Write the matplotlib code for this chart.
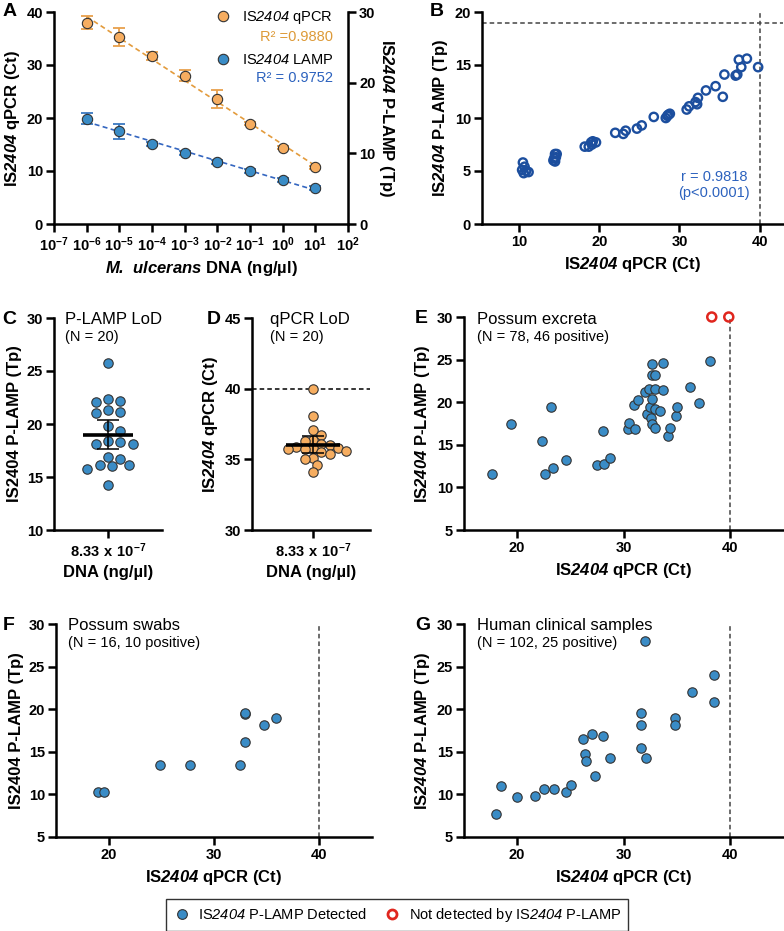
import numpy as np
import matplotlib.pyplot as plt
from matplotlib.lines import Line2D
from matplotlib.ticker import NullLocator

plt.rcParams['font.family'] = ['Liberation Sans', 'DejaVu Sans']
plt.rcParams['font.weight'] = 'bold'
plt.rcParams['axes.labelweight'] = 'bold'
plt.rcParams['mathtext.fontset'] = 'custom'
plt.rcParams['mathtext.rm'] = 'Liberation Sans:style=normal:weight=bold'
plt.rcParams['mathtext.bf'] = 'Liberation Sans:style=italic:weight=bold'
plt.rcParams['mathtext.sf'] = 'Liberation Sans:style=italic:weight=normal'

# ---- data ----
# A: standard curves
conc = [1e-6, 1e-5, 1e-4, 1e-3, 1e-2, 1e-1, 1e0, 1e1]
qpcr_ct = [38.0, 35.2, 31.7, 28.0, 23.6, 18.9, 14.4, 10.7]
qpcr_sd = [1.3, 1.7, 0.8, 1.0, 1.7, 0.3, 0.3, 0.3]
lamp_tp = [14.9, 13.1, 11.3, 10.1, 8.8, 7.45, 6.25, 5.05]
lamp_sd = [0.75, 1.1, 0.3, 0.3, 0.3, 0.3, 0.3, 0.3]

# B: qPCR vs P-LAMP on dilutions
b_ct = [10.5, 10.4, 10.7, 10.9, 11.2, 10.6,
        14.3, 14.5, 14.7, 14.4, 14.6, 14.5,
        18.2, 18.7, 19.0, 19.2, 19.6, 19.1,
        22.0, 23.0, 23.3, 24.7, 25.3,
        26.8, 28.3, 28.5, 28.8, 28.6,
        30.9, 31.2, 32.0, 32.3, 32.2, 33.3, 34.5, 35.4, 35.6,
        37.0, 37.2, 37.4, 37.7, 38.4, 39.8]
b_tp = [5.8, 5.1, 5.4, 5.0, 4.9, 4.8,
        6.0, 6.6, 6.6, 6.2, 6.3, 5.9,
        7.3, 7.3, 7.7, 7.8, 7.7, 7.5,
        8.6, 8.5, 8.8, 9.0, 9.3,
        10.1, 10.0, 10.2, 10.4, 10.3,
        10.8, 11.1, 11.5, 11.9, 11.3, 12.6, 13.0, 12.0, 14.1,
        14.0, 14.1, 15.5, 14.8, 15.6, 14.8]

# C: P-LAMP LoD replicates
c_tp = [25.8, 22.1, 22.4, 22.2, 21.1, 21.0, 21.3, 19.8, 19.3, 18.4,
        18.1, 18.1, 18.3, 16.9, 16.7, 16.1, 16.0, 15.8, 16.1, 14.2]
# D: qPCR LoD replicates
d_ct = [40.0, 38.1, 37.1, 36.7, 36.4, 36.3, 36.1, 36.0, 35.9, 35.8,
        35.8, 35.7, 35.7, 35.6, 35.5, 35.4, 35.1, 35.0, 34.6, 34.1]

# E: possum excreta
e_ct = [17.6, 19.4, 22.3, 22.6, 23.2, 23.4, 24.6, 27.5, 28.2, 28.1, 28.7,
        30.4, 30.5, 31.1, 31.0, 31.4, 32.0, 32.4, 32.2, 32.5, 32.6, 32.7,
        32.7, 32.7, 32.7, 33.0, 33.0, 33.0, 33.0, 33.4, 33.7, 33.7, 34.2,
        34.4, 34.9, 35.0, 36.3, 37.1, 38.1]
e_tp = [11.6, 17.4, 15.5, 11.6, 19.4, 12.3, 13.2, 12.6, 12.7, 16.6, 13.4,
        16.9, 17.6, 16.8, 19.7, 20.2, 21.2, 21.5, 18.6, 19.4, 18.1, 17.4,
        20.4, 23.2, 24.5, 23.2, 21.5, 19.2, 17.0, 19.0, 24.6, 21.4, 16.0,
        17.0, 18.4, 19.4, 21.8, 19.9, 24.8]
e_nd_ct = [38.3, 39.9]
e_nd_tp = [30.0, 30.0]

# F: possum swabs
f_ct = [19.0, 19.6, 24.9, 27.7, 32.5, 32.9, 32.9, 32.9, 34.7, 35.9]
f_tp = [10.3, 10.3, 13.5, 13.4, 13.5, 16.1, 19.4, 19.6, 18.1, 19.0]

# G: human clinical samples
g_ct = [18.0, 18.5, 20.0, 21.7, 22.5, 23.5, 24.6, 25.1, 26.2, 26.4, 26.5,
        27.0, 27.3, 28.1, 28.7, 32.0, 31.6, 31.6, 31.6, 32.1, 34.8, 34.8,
        36.4, 38.5, 38.5]
g_tp = [7.7, 11.0, 9.7, 9.8, 10.6, 10.6, 10.3, 11.1, 16.5, 14.7, 13.9,
        17.1, 12.2, 16.8, 14.3, 28.0, 19.6, 18.1, 15.4, 14.3, 19.0, 18.1,
        22.0, 24.0, 20.9]

# ---- style ----
ORANGE = '#F6AD60'
BLUE = '#3A8CC6'
EDGE = '#333333'
ORANGE_TXT = '#DD9A38'
BLUE_TXT = '#2C62BE'
DARKBLUE = '#1C4E9E'
RED = '#E0261E'
DASH = (0, (3, 2))
TICK_FS = 10.5

W, H = 784, 931
fig = plt.figure(figsize=(W / 100, H / 100), dpi=100)


def box(l, r, t, b):
    return [l / W, 1 - b / H, (r - l) / W, (b - t) / H]


def ftext(x, y, s, **kw):
    fig.text(x / W, 1 - y / H, s, ha='left', va='top', **kw)


def style(ax):
    ax.spines['top'].set_visible(False)
    ax.spines['right'].set_visible(False)
    for sp in ax.spines.values():
        sp.set_linewidth(1.8)
    ax.tick_params(width=1.8, length=6, labelsize=TICK_FS, pad=2)


def swarm_offsets(vals, ax, diam_px, overlap=0.8):
    # simple beeswarm in pixel space, points may overlap a little
    bb = ax.get_window_extent()
    y0, y1 = ax.get_ylim()
    x0, x1 = ax.get_xlim()
    ypx = (np.asarray(vals) - y0) / (y1 - y0) * bb.height
    step = diam_px * 0.45
    placed = []
    off = np.zeros(len(vals))
    for i in np.argsort(vals)[::-1]:
        for k in range(60):
            cands = [0.0] if k == 0 else [k * step, -k * step]
            good = None
            for c in cands:
                if all((c - px) ** 2 + (ypx[i] - py) ** 2 >= (diam_px * overlap) ** 2
                       for px, py in placed):
                    good = c
                    break
            if good is not None:
                break
        off[i] = good
        placed.append((good, ypx[i]))
    return off / bb.width * (x1 - x0)


qpcr_lab = r'IS$\mathbf{2404}$ qPCR (Ct)'
lamp_lab = r'IS$\mathbf{2404}$ P-LAMP (Tp)'
lamp_lab_up = 'IS2404 P-LAMP (Tp)'

# ---- A ----
axA = fig.add_axes(box(54, 348, 12, 224))
style(axA)
axA.set_xscale('log')
axA.set_xlim(1e-7, 1e2)
axA.set_ylim(0, 40)
axA.set_yticks([0, 10, 20, 30, 40])
dec = np.arange(-7, 3)
axA.set_xticks(10.0 ** dec, [r'$\mathrm{10^{%d}}$' % d for d in dec])
axA.xaxis.set_minor_locator(NullLocator())
axA.set_ylabel(qpcr_lab, fontsize=12, labelpad=3)
axA.set_xlabel(r'$\mathbf{M.\ ulcerans}$ DNA (ng/µl)', fontsize=12, labelpad=4)

axA2 = axA.twinx()
for s in ['top', 'left', 'bottom']:
    axA2.spines[s].set_visible(False)
axA2.spines['right'].set_linewidth(1.8)
axA2.tick_params(width=1.8, length=6, labelsize=TICK_FS, pad=2)
axA2.set_ylim(0, 30)
axA2.set_yticks([0, 10, 20, 30])
axA2.set_ylabel(lamp_lab, fontsize=12, rotation=270, labelpad=15)

lx = np.log10(conc)
xs = np.array([lx[0], lx[-1]])
kq = np.polyfit(lx, qpcr_ct, 1)
kl = np.polyfit(lx, lamp_tp, 1)
axA.plot(10 ** xs, np.polyval(kq, xs), ls=(0, (3, 2)), color='#E39B3C', lw=1.2, zorder=2)
axA2.plot(10 ** xs, np.polyval(kl, xs), ls=(0, (3, 2)), color='#3466C0', lw=1.2, zorder=2)
axA.errorbar(conc, qpcr_ct, yerr=qpcr_sd, fmt='none', ecolor='#E8A04C', elinewidth=1.3,
             capsize=4, capthick=1.3, zorder=3)
axA.scatter(conc, qpcr_ct, s=55, color=ORANGE, edgecolors=EDGE, linewidths=0.8, zorder=4)
axA2.errorbar(conc, lamp_tp, yerr=lamp_sd, fmt='none', ecolor='#3A78C0', elinewidth=1.3,
              capsize=4, capthick=1.3, zorder=3)
axA2.scatter(conc, lamp_tp, s=55, color=BLUE, edgecolors=EDGE, linewidths=0.8, zorder=4)

hA = [Line2D([], [], ls='', marker='o', ms=7.5, mfc=ORANGE, mec=EDGE, mew=0.8),
      Line2D([], [], ls='', marker='o', ms=7.5, mfc=BLUE, mec=EDGE, mew=0.8)]
axA2.legend(hA, [r'IS$\mathsf{2404}$ qPCR', r'IS$\mathsf{2404}$ LAMP'], loc='upper right',
            bbox_to_anchor=(0.95, 1.012), borderaxespad=0, borderpad=0, frameon=False,
            labelspacing=1.8, handletextpad=0.3, prop={'size': 10.5, 'weight': 'normal'})
axA2.text(0.95, 0.880, 'R² =0.9880', transform=axA2.transAxes, ha='right', va='center',
          color=ORANGE_TXT, fontsize=10.5, fontweight='normal')
axA2.text(0.95, 0.691, 'R² = 0.9752', transform=axA2.transAxes, ha='right', va='center',
          color=BLUE_TXT, fontsize=10.5, fontweight='normal')

# ---- B ----
axB = fig.add_axes(box(482, 783, 12, 224))
style(axB)
axB.set_xlim(5.4, 42.9)
axB.set_ylim(0, 20)
axB.set_xticks([10, 20, 30, 40])
axB.set_yticks([0, 5, 10, 15, 20])
axB.axhline(19, ls=DASH, color='#444444', lw=1.1)
axB.axvline(40, ls=DASH, color='#444444', lw=1.1)
axB.scatter(b_ct, b_tp, s=36, facecolors='none', edgecolors=DARKBLUE, linewidths=1.7, zorder=3)
axB.text(34.3, 3.7, 'r = 0.9818\n(p<0.0001)', ha='center', va='center', color=BLUE_TXT,
         fontsize=10.5, fontweight='normal', linespacing=1.15)
axB.set_xlabel(qpcr_lab, fontsize=12, labelpad=4)
axB.set_ylabel(lamp_lab, fontsize=12, labelpad=3)


# ---- C & D ----
def lod_panel(rect, vals, col, ylim, yticks, xlim, halfw, ylabel, overlap):
    ax = fig.add_axes(rect)
    style(ax)
    ax.set_xlim(*xlim)
    ax.set_ylim(*ylim)
    xo = swarm_offsets(vals, ax, diam_px=9.2, overlap=overlap)
    ax.scatter(xo, vals, s=46, color=col, edgecolors=EDGE, linewidths=0.8, zorder=3)
    m = np.mean(vals)
    ci = 2.093 * np.std(vals, ddof=1) / np.sqrt(len(vals))
    ax.hlines(m, -halfw, halfw, color='black', lw=2.6, zorder=5)
    ax.errorbar([0], [m], yerr=[ci], fmt='none', ecolor='black', elinewidth=1.1,
                capsize=8, capthick=1.1, zorder=5)
    ax.set_yticks(yticks)
    ax.set_xticks([0], [r'$\mathrm{8.33\ x\ 10^{-7}}$'])
    ax.set_xlabel('DNA (ng/µl)', fontsize=12, labelpad=4)
    ax.set_ylabel(ylabel, fontsize=12, labelpad=3)
    return ax


axC = lod_panel(box(54, 162, 318, 530), c_tp, BLUE, (10, 30), [10, 15, 20, 25, 30],
                (-0.5, 0.5), 0.235, lamp_lab_up, 1.1)
axD = lod_panel(box(252, 370, 318, 530), d_ct, ORANGE, (30, 45), [30, 35, 40, 45],
                (-0.517, 0.483), 0.23, qpcr_lab, 0.8)
axD.axhline(40, ls=DASH, color='black', lw=1.1, zorder=1)


# ---- E, F, G ----
def sample_panel(rect, ct, tp, ylabel):
    ax = fig.add_axes(rect)
    style(ax)
    ax.set_xlim(15, 45)
    ax.set_ylim(5, 30)
    ax.set_xticks([20, 30, 40])
    ax.set_yticks([5, 10, 15, 20, 25, 30])
    ax.axvline(40, ls=DASH, color='#444444', lw=1.1, zorder=1)
    ax.scatter(ct, tp, s=46, color=BLUE, edgecolors=EDGE, linewidths=0.8, zorder=3)
    ax.set_xlabel(qpcr_lab, fontsize=12, labelpad=4)
    ax.set_ylabel(ylabel, fontsize=12, labelpad=3)
    return ax


axE = sample_panel(box(464, 783, 317, 530), e_ct, e_tp, lamp_lab)
axE.scatter(e_nd_ct, e_nd_tp, s=42, facecolors='none', edgecolors=RED, linewidths=1.8,
            zorder=4, clip_on=False)
axF = sample_panel(box(56, 372, 624, 837), f_ct, f_tp, lamp_lab_up)
axG = sample_panel(box(464, 783, 624, 837), g_ct, g_tp, lamp_lab)

# ---- panel titles / letters ----
for x, y, t in [(3, 3, 'A'), (430, 3, 'B'), (2, 311, 'C'), (207, 311, 'D'),
                (415, 310, 'E'), (3, 617, 'F'), (415, 617, 'G')]:
    ftext(x, y, t, fontsize=14, fontweight='bold')

for x, y, t1, t2 in [(65, 312, 'P-LAMP LoD', '(N = 20)'),
                     (270, 312, 'qPCR LoD', '(N = 20)'),
                     (477, 312, 'Possum excreta', '(N = 78, 46 positive)'),
                     (68, 618, 'Possum swabs', '(N = 16, 10 positive)'),
                     (477, 618, 'Human clinical samples', '(N = 102, 25 positive)')]:
    ftext(x, y, t1, fontsize=12, fontweight='normal')
    ftext(x, y + 18, t2, fontsize=10.5, fontweight='normal')

# ---- bottom legend ----
hL = [Line2D([], [], ls='', marker='o', ms=7, mfc=BLUE, mec=EDGE, mew=0.8),
      Line2D([], [], ls='', marker='o', ms=6.5, mfc='none', mec=RED, mew=2)]
leg = fig.legend(hL, [r'IS$\mathsf{2404}$ P-LAMP Detected', r'Not detected by IS$\mathsf{2404}$ P-LAMP'],
                 loc='center', bbox_to_anchor=(397 / W, 1 - 915 / H), ncol=2, frameon=True,
                 fancybox=False, edgecolor='black', handlelength=1.2, handletextpad=0.5,
                 columnspacing=1.2, borderpad=0.45, prop={'size': 10.5, 'weight': 'normal'})
leg.get_frame().set_linewidth(1.0)

fig.savefig('out.png', dpi=100)
